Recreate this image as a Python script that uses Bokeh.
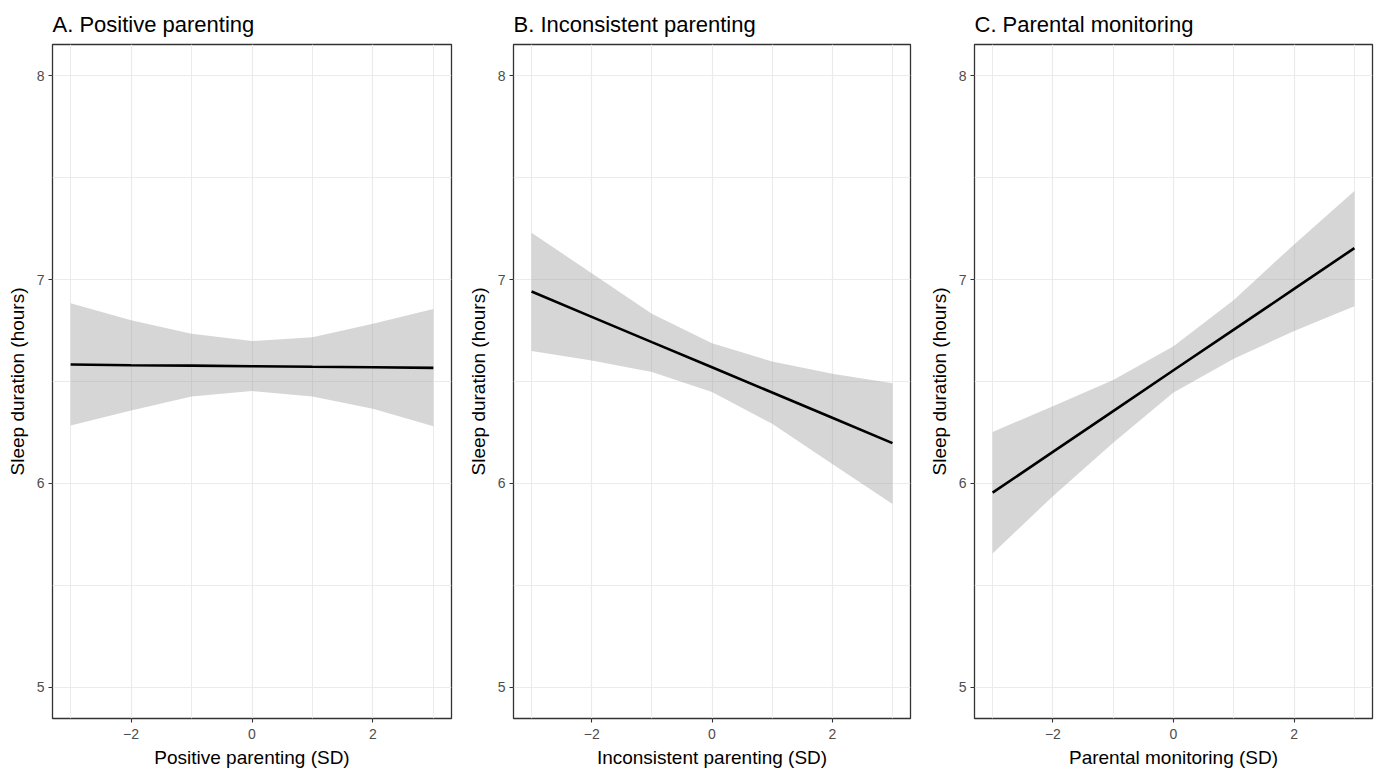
from bokeh.plotting import figure
from bokeh.layouts import row
from bokeh.models import Range1d, FixedTicker
from bokeh.embed import file_html
from bokeh.resources import INLINE

# ---- data ----
x_vals = [-3, -2, -1, 0, 1, 2, 3]

titles = ["A. Positive parenting", "B. Inconsistent parenting", "C. Parental monitoring"]
x_labels = ["Positive parenting (SD)", "Inconsistent parenting (SD)", "Parental monitoring (SD)"]
y_label = "Sleep duration (hours)"

fit_a = [6.583, 6.580, 6.578, 6.575, 6.572, 6.570, 6.567]
lower_a = [6.284, 6.358, 6.426, 6.453, 6.426, 6.366, 6.281]
upper_a = [6.884, 6.800, 6.734, 6.698, 6.717, 6.783, 6.856]

fit_b = [6.941, 6.817, 6.693, 6.570, 6.446, 6.322, 6.198]
lower_b = [6.649, 6.603, 6.546, 6.448, 6.293, 6.096, 5.900]
upper_b = [7.229, 7.031, 6.832, 6.688, 6.598, 6.538, 6.492]

fit_c = [5.955, 6.155, 6.355, 6.555, 6.754, 6.954, 7.154]
lower_c = [5.657, 5.938, 6.200, 6.446, 6.612, 6.747, 6.869]
upper_c = [6.253, 6.379, 6.507, 6.673, 6.900, 7.172, 7.434]

x_major = [-2, 0, 2]
x_minor = [-3, -1, 1, 3]
x_tick_labels = {-2: "\u22122", 0: "0", 2: "2"}
y_major = [5, 6, 7, 8]
y_minor = [5.5, 6.5, 7.5]

FONT = "Liberation Sans"

panels = [
    (fit_a, lower_a, upper_a, 399, 10),
    (fit_b, lower_b, upper_b, 397, 12),
    (fit_c, lower_c, upper_c, 398, 7),
]

figs = []
for i, (fit, lo, up, fw, br) in enumerate(panels):
    p = figure(frame_width=fw, frame_height=674, output_backend="svg", toolbar_location=None,
               x_range=Range1d(-3.3, 3.3), y_range=Range1d(4.848, 8.152),
               min_border_left=52, min_border_right=br, min_border_top=44,
               min_border_bottom=52, title=titles[i])
    p.title.text_font = FONT
    p.title.text_font_size = "22px"
    p.title.text_font_style = "normal"
    p.title.text_color = "black"
    p.title.offset = 0
    p.title.standoff = 15

    p.background_fill_color = "white"
    p.border_fill_color = "white"
    p.outline_line_color = "#333333"
    p.outline_line_width = 1.3

    p.xaxis.ticker = FixedTicker(ticks=x_major, minor_ticks=x_minor)
    p.yaxis.ticker = FixedTicker(ticks=y_major, minor_ticks=y_minor)
    p.xaxis.major_label_overrides = x_tick_labels

    for ax in (p.xaxis, p.yaxis):
        ax.axis_line_color = None
        ax.major_tick_line_color = "#333333"
        ax.major_tick_line_width = 1.1
        ax.major_tick_out = 4
        ax.major_tick_in = 0
        ax.minor_tick_line_color = None
        ax.major_label_text_font = FONT
        ax.major_label_text_font_size = "14px"
        ax.major_label_text_color = "#4d4d4d"
        ax.axis_label_text_font = FONT
        ax.axis_label_text_font_size = "19px"
        ax.axis_label_text_font_style = "normal"
        ax.axis_label_text_color = "black"
    p.xaxis.major_label_standoff = 6
    p.xaxis.axis_label_standoff = 5
    p.yaxis.major_label_standoff = 4
    p.yaxis.axis_label_standoff = 6

    p.xaxis.axis_label = x_labels[i]
    p.yaxis.axis_label = y_label

    for g in (p.xgrid, p.ygrid):
        g.grid_line_color = "#ebebeb"
        g.grid_line_width = 1.2
        g.minor_grid_line_color = "#ebebeb"
        g.minor_grid_line_width = 1.0

    p.varea(x=x_vals, y1=lo, y2=up, fill_color="#999999", fill_alpha=0.4)
    p.line(x=x_vals, y=fit, line_color="black", line_width=2.6)
    figs.append(p)

layout = row(*figs)
open("out.html", "w").write(file_html(layout, INLINE))
